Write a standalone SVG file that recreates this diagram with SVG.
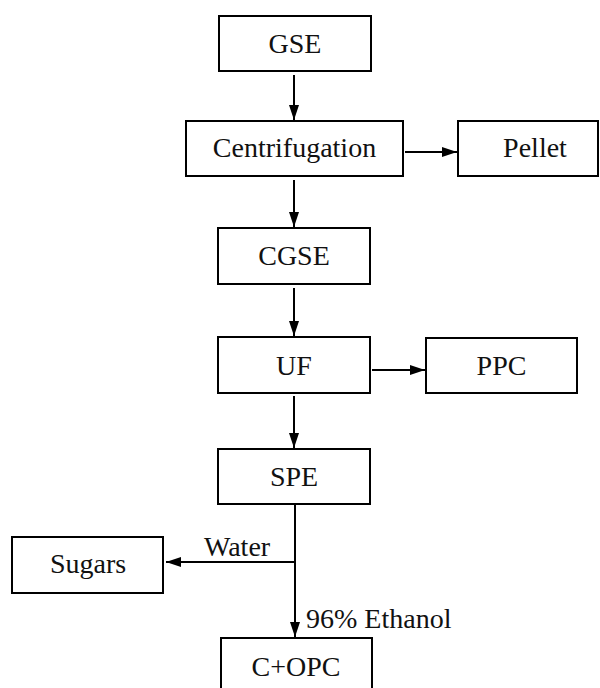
<svg xmlns="http://www.w3.org/2000/svg" width="600" height="688" viewBox="0 0 600 688" font-family="Liberation Serif, DejaVu Serif, serif">
<style>
  .box { fill: #fff; stroke: #000; stroke-width: 2; }
  text { font-family: "Liberation Serif", "DejaVu Serif", serif; font-size: 28px; fill: #111; }
  .lbl { text-anchor: middle; }
  .conn { stroke: #000; stroke-width: 2; fill: none; }
</style>
<defs>
  <marker id="ah" markerUnits="userSpaceOnUse" markerWidth="16" markerHeight="12" refX="15" refY="5" orient="auto">
    <path d="M0,0 L15,5 L0,10 Z" fill="#000"/>
  </marker>
</defs>
<rect width="600" height="688" fill="#fff"/>
<g id="connectors">
  <line class="conn" x1="294" y1="75" x2="294" y2="120" marker-end="url(#ah)"/>
  <line class="conn" x1="405" y1="152" x2="457" y2="152" marker-end="url(#ah)"/>
  <line class="conn" x1="294" y1="180" x2="294" y2="227" marker-end="url(#ah)"/>
  <line class="conn" x1="294" y1="288" x2="294" y2="336" marker-end="url(#ah)"/>
  <line class="conn" x1="372" y1="370" x2="425" y2="370" marker-end="url(#ah)"/>
  <line class="conn" x1="294" y1="396" x2="294" y2="448" marker-end="url(#ah)"/>
  <line class="conn" x1="295" y1="505" x2="295" y2="637" marker-end="url(#ah)"/>
  <line class="conn" x1="296" y1="562" x2="166" y2="562" marker-end="url(#ah)"/>
  <text x="204" y="556">Water</text>
  <text x="306" y="628">96% Ethanol</text>
</g>
<g id="gse"><rect class="box" x="219" y="16" width="152" height="55"/><text class="lbl" x="295" y="53">GSE</text></g>
<g id="centrifugation"><rect class="box" x="186" y="121" width="217" height="55"/><text class="lbl" x="294.5" y="157">Centrifugation</text></g>
<g id="pellet"><rect class="box" x="458" y="121" width="140" height="55"/><text class="lbl" x="535" y="157">Pellet</text></g>
<g id="cgse"><rect class="box" x="218" y="228" width="152" height="56"/><text class="lbl" x="294" y="265">CGSE</text></g>
<g id="uf"><rect class="box" x="218" y="337" width="152" height="56"/><text class="lbl" x="294" y="375">UF</text></g>
<g id="ppc"><rect class="box" x="426" y="338" width="151" height="55"/><text class="lbl" x="501.5" y="375">PPC</text></g>
<g id="spe"><rect class="box" x="218" y="449" width="152" height="55"/><text class="lbl" x="294" y="486">SPE</text></g>
<g id="sugars"><rect class="box" x="12" y="537" width="151" height="56"/><text class="lbl" x="88" y="573">Sugars</text></g>
<g id="copc"><rect class="box" x="221" y="638" width="151" height="55"/><text class="lbl" x="296" y="676">C+OPC</text></g>
</svg>
